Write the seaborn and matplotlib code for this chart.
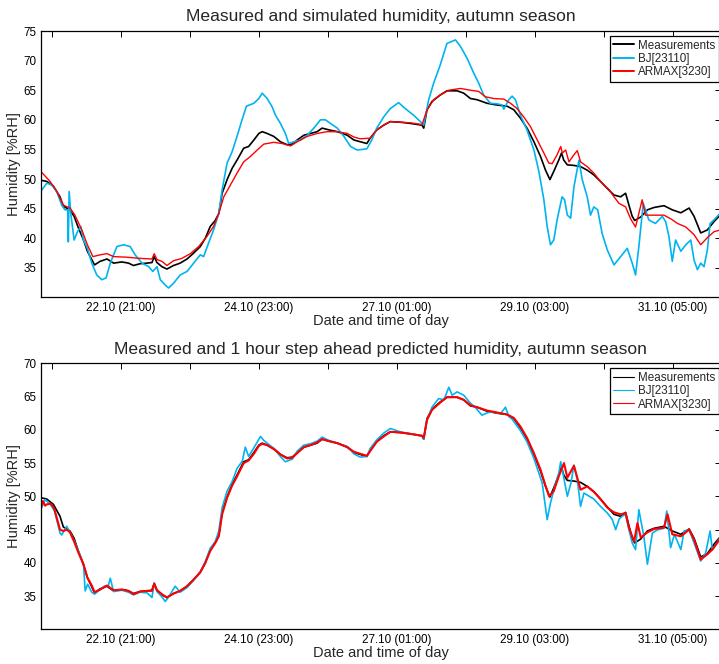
import matplotlib
matplotlib.use("Agg")
import matplotlib.pyplot as plt
import pandas as pd
import seaborn as sns

# Time axis: hours elapsed since 21.10 16:00
t_meas = [0, 2.2, 4.6, 7.0, 8.2, 9.4, 10.6, 12.1, 13.7, 15.5, 16.9, 18.5, 19.5, 21.5, 24.0,
          26.4, 29.4, 31.8, 33.6, 36.0, 38.5, 40.3, 41.1, 42.1, 43.9, 45.7, 48.1, 50.5, 53.0,
          55.4, 57.8, 59.6, 61.4, 63.2, 64.5, 65.7, 67.5, 69.3, 71.1, 73.5, 75.3, 77.2, 79.0,
          80.2, 82.0, 84.4, 86.8, 89.2, 91.1, 92.9, 95.3, 97.7, 100.1, 101.9, 104.4, 107.4,
          111.0, 113.4, 115.7, 118.1, 119.3, 121.7, 124.2, 126.6, 130.2, 133.8, 138.1, 138.7,
          139.9, 141.7, 144.7, 147.1, 150.8, 153.2, 155.6, 158.0, 161.6, 165.3, 168.9, 171.3,
          173.7, 176.1, 178.6, 181.0, 182.8, 184.4, 185.8, 187.6, 188.6, 189.4, 190.7, 193.1,
          195.5, 197.9, 200.3, 202.7, 205.2, 207.6, 210.0, 211.8, 213.0, 214.2, 215.1, 217.3,
          219.7, 222.1, 225.7, 228.7, 231.8, 234.8, 236.6, 239.0, 241.4, 243.8, 246.0]
rh_meas = [49.8, 49.6, 48.8, 47.0, 45.4, 45.1, 44.8, 43.7, 41.7, 39.7, 37.8, 36.4, 35.5, 36.1,
           36.5, 35.8, 36.0, 35.8, 35.4, 35.7, 35.8, 35.9, 36.9, 35.9, 35.2, 34.8, 35.4, 35.8,
           36.5, 37.5, 38.6, 40.0, 42.0, 43.0, 44.2, 47.6, 49.9, 51.8, 53.2, 55.2, 55.5, 56.6,
           57.7, 58.0, 57.7, 57.2, 56.3, 55.8, 55.9, 56.6, 57.4, 57.7, 58.0, 58.6, 58.3, 58.0,
           57.4, 56.6, 56.3, 56.0, 56.9, 58.3, 59.1, 59.7, 59.6, 59.4, 59.1, 58.6, 61.7, 63.1,
           64.2, 64.9, 64.9, 64.5, 63.6, 63.4, 62.8, 62.5, 62.3, 61.7, 60.3, 58.6, 56.3, 53.8,
           51.5, 49.9, 51.3, 53.2, 54.4, 53.2, 52.4, 52.3, 52.1, 51.5, 50.7, 49.6, 48.4, 47.3,
           47.0, 47.6, 45.6, 43.7, 43.0, 43.6, 44.8, 45.2, 45.5, 44.8, 44.3, 45.1, 43.7, 40.9,
           41.4, 42.8, 43.9]

# Simulated output, Box-Jenkins model
t_bj_sim = [0, 2.2, 4.0, 5.8, 7.6, 8.8, 9.8, 10.0, 10.3, 10.9, 12.1, 13.3, 14.5, 15.5, 16.9,
            18.5, 20.3, 22.1, 23.7, 25.2, 27.6, 30.0, 32.4, 34.2, 36.7, 39.1, 40.6, 42.1, 43.3,
            45.1, 46.3, 48.1, 50.5, 53.0, 55.4, 57.8, 59.0, 60.8, 62.6, 64.5, 65.7, 67.5, 69.3,
            71.1, 72.9, 74.5, 77.2, 79.0, 80.2, 82.0, 83.8, 85.0, 86.8, 88.6, 89.8, 91.7, 94.1,
            96.5, 98.9, 101.3, 103.1, 104.9, 107.4, 109.8, 112.2, 114.6, 118.1, 119.9, 121.7,
            124.2, 126.6, 129.6, 132.0, 135.0, 137.5, 138.7, 140.5, 142.3, 144.7, 147.1, 150.2,
            152.0, 154.4, 156.8, 158.6, 160.4, 162.8, 165.3, 167.1, 167.7, 169.5, 170.7, 171.9,
            173.7, 176.1, 178.6, 180.4, 182.2, 183.4, 184.6, 185.8, 187.0, 188.8, 189.7, 190.7,
            191.9, 193.1, 194.9, 196.1, 197.9, 199.1, 200.3, 201.7, 203.3, 205.2, 207.6, 210.0,
            212.4, 214.2, 215.4, 216.6, 218.2, 220.2, 222.6, 225.1, 226.3, 227.5, 228.7, 229.9,
            231.8, 233.6, 235.4, 236.6, 237.8, 239.0, 240.2, 241.4, 242.4, 243.8, 246.0]
rh_bj_sim = [47.9, 49.3, 49.0, 47.9, 45.6, 44.8, 44.8, 39.4, 47.9, 44.2, 39.7, 41.1, 42.0, 39.7,
             38.3, 35.8, 33.8, 33.0, 33.3, 35.8, 38.6, 38.9, 38.6, 37.2, 35.8, 35.2, 34.4, 35.2,
             33.0, 32.1, 31.6, 32.4, 33.8, 34.4, 35.8, 37.2, 36.9, 39.2, 41.4, 44.2, 48.2, 52.7,
             54.6, 57.2, 60.0, 62.3, 62.8, 63.6, 64.5, 63.6, 62.2, 60.8, 59.4, 57.7, 56.0, 56.3,
             56.6, 57.4, 58.6, 60.0, 60.0, 59.4, 58.6, 57.2, 55.5, 54.9, 55.1, 56.6, 58.6, 60.5,
             61.9, 62.9, 61.9, 60.8, 59.7, 59.1, 63.4, 66.2, 69.3, 72.9, 73.5, 72.4, 70.4, 67.9,
             66.2, 64.2, 62.8, 62.7, 62.5, 61.8, 63.4, 64.0, 63.4, 60.8, 58.3, 54.9, 51.3, 46.5,
             42.0, 38.9, 39.7, 43.1, 47.0, 46.5, 43.9, 43.4, 48.7, 53.2, 49.9, 47.0, 43.9, 45.3,
             44.8, 40.8, 38.0, 35.5, 36.9, 38.3, 35.8, 33.8, 38.6, 45.9, 43.1, 42.5, 43.7, 42.8,
             40.3, 36.1, 39.7, 37.8, 38.9, 39.7, 36.3, 34.7, 35.8, 35.2, 38.0, 42.5, 43.1, 44.2]

# Simulated output, ARMAX model
t_armax_sim = [0, 3.4, 5.8, 8.2, 10.6, 12.4, 14.9, 16.9, 18.9, 21.5, 24.0, 26.4, 31.2, 36.0,
               40.3, 41.1, 42.1, 43.9, 45.7, 48.1, 51.1, 54.2, 57.2, 60.2, 62.6, 64.5, 66.3,
               68.7, 71.1, 73.5, 75.9, 78.4, 80.8, 84.4, 87.4, 90.5, 92.9, 96.5, 100.1, 103.7,
               107.4, 111.0, 113.4, 115.7, 119.3, 121.7, 124.2, 126.6, 130.2, 133.8, 138.1,
               139.9, 142.3, 144.7, 147.8, 152.0, 155.6, 158.6, 161.0, 164.0, 167.7, 170.1,
               172.5, 174.9, 177.3, 179.8, 182.2, 184.0, 185.2, 187.0, 188.3, 188.9, 190.1,
               191.3, 193.1, 194.3, 195.5, 197.9, 200.3, 202.7, 205.8, 207.6, 209.4, 211.8,
               213.6, 215.4, 216.6, 217.8, 219.0, 222.1, 225.7, 228.1, 230.6, 233.6, 236.6,
               239.0, 241.4, 243.8, 246.0]
rh_armax_sim = [51.3, 49.6, 47.9, 45.6, 45.1, 43.9, 41.4, 38.9, 36.9, 37.2, 37.4, 36.9, 36.8,
                36.6, 36.5, 37.4, 36.4, 36.1, 35.4, 36.2, 36.6, 37.4, 38.6, 40.3, 42.0, 44.2,
                47.0, 49.0, 51.0, 52.9, 53.8, 54.9, 55.9, 56.2, 56.0, 55.6, 56.3, 57.2, 57.7,
                58.0, 58.0, 57.7, 57.1, 56.8, 56.9, 58.3, 59.1, 59.7, 59.6, 59.5, 59.2, 61.7,
                63.4, 64.2, 65.0, 65.3, 65.0, 64.8, 63.9, 63.6, 63.5, 62.8, 61.9, 60.5, 58.9,
                56.6, 54.4, 52.7, 52.6, 54.1, 55.5, 54.4, 54.9, 52.9, 54.1, 54.8, 52.9, 52.1,
                51.0, 49.6, 48.2, 47.0, 45.9, 45.3, 43.3, 41.9, 44.2, 46.5, 43.9, 43.9, 43.9,
                43.3, 42.5, 41.9, 40.6, 38.9, 40.1, 41.1, 41.4]

# One hour step ahead prediction, Box-Jenkins model
t_bj_pred = [0, 1.6, 3.5, 5.0, 7.0, 7.6, 9.4, 11.0, 12.5, 14.0, 15.5, 16.1, 17.0, 18.5, 19.5,
             21.5, 23.0, 24.5, 25.2, 26.4, 29.4, 31.8, 33.6, 36.0, 38.5, 40.3, 41.1, 42.1,
             43.9, 45.1, 46.5, 48.7, 50.5, 53.0, 55.4, 57.8, 59.6, 61.4, 63.2, 64.5, 65.7,
             67.5, 69.3, 71.1, 73.0, 74.1, 75.3, 77.2, 79.6, 80.8, 82.0, 84.4, 86.8, 88.6,
             91.1, 92.9, 95.3, 97.7, 100.1, 101.9, 104.4, 107.4, 111.0, 113.4, 115.7, 118.1,
             119.3, 121.7, 124.2, 126.6, 130.2, 133.8, 138.1, 138.7, 139.9, 141.7, 144.1,
             146.0, 147.8, 149.0, 150.8, 153.2, 155.6, 157.5, 159.8, 162.0, 164.0, 166.5,
             168.3, 169.5, 170.7, 173.7, 176.1, 178.6, 181.6, 183.4, 184.6, 186.0, 187.6,
             188.3, 189.1, 190.7, 192.0, 193.1, 194.3, 195.5, 196.7, 197.9, 200.3, 202.7,
             205.2, 207.0, 208.2, 209.5, 210.5, 211.8, 213.0, 214.2, 215.4, 216.6, 218.4,
             219.7, 221.5, 223.5, 225.7, 226.7, 228.1, 229.5, 231.8, 233.0, 234.8, 236.6,
             239.0, 240.8, 242.4, 243.2, 244.5, 246.0]
rh_bj_pred = [48.0, 49.5, 48.8, 47.8, 44.5, 44.2, 45.5, 44.3, 43.0, 41.5, 39.8, 35.8, 36.8,
              35.6, 35.3, 36.0, 36.5, 36.6, 37.7, 35.7, 35.9, 35.6, 35.2, 35.6, 35.5, 34.8,
              37.0, 35.7, 34.9, 34.2, 35.0, 36.5, 35.6, 36.3, 37.4, 38.7, 40.2, 42.2, 43.2,
              44.8, 48.3, 50.8, 52.2, 54.2, 55.3, 57.4, 56.0, 57.3, 59.0, 58.4, 58.0, 57.2,
              56.0, 55.2, 55.6, 56.8, 57.7, 57.9, 58.3, 58.9, 58.4, 58.0, 57.5, 56.4, 55.9,
              56.0, 57.2, 58.5, 59.5, 60.2, 59.7, 59.4, 59.1, 58.6, 61.5, 63.4, 64.7, 64.5,
              66.4, 65.2, 65.7, 65.2, 64.0, 63.3, 62.2, 62.6, 62.7, 62.4, 63.4, 62.0, 61.6,
              59.9, 58.2, 55.7, 52.0, 46.5, 49.0, 51.3, 53.5, 55.2, 53.5, 50.0, 52.0, 54.7,
              52.5, 48.5, 50.5, 50.2, 49.6, 48.5, 47.5, 46.5, 45.0, 46.6, 47.0, 47.3, 45.0,
              43.0, 42.0, 48.0, 44.0, 39.8, 44.5, 45.0, 45.2, 47.8, 42.3, 44.3, 42.0, 44.8,
              45.0, 43.0, 40.3, 41.5, 44.8, 42.0, 42.8, 43.8]

# One hour step ahead prediction, ARMAX model
t_armax_pred = [0, 0.8, 1.6, 2.2, 3.5, 4.6, 5.0, 7.0, 8.2, 9.4, 10.6, 12.1, 13.7, 15.5, 16.9,
                18.5, 19.5, 21.5, 24.0, 26.4, 29.4, 31.8, 33.6, 36.0, 38.5, 40.3, 41.1, 42.1,
                43.9, 45.7, 48.1, 50.5, 53.0, 55.4, 57.8, 59.6, 61.4, 63.2, 64.5, 65.7, 67.5,
                69.3, 71.1, 73.5, 75.3, 77.2, 79.0, 80.2, 82.0, 84.4, 86.8, 89.2, 91.1, 92.9,
                95.3, 97.7, 100.1, 101.9, 104.4, 107.4, 111.0, 113.4, 115.7, 118.1, 119.3,
                121.7, 124.2, 126.6, 130.2, 133.8, 138.1, 138.7, 139.9, 141.7, 144.7, 147.1,
                150.8, 153.2, 155.6, 158.0, 161.6, 165.3, 168.9, 171.3, 173.7, 176.1, 178.6,
                181.0, 182.8, 184.1, 185.8, 187.6, 189.5, 190.7, 193.1, 195.5, 197.9, 200.3,
                202.7, 205.2, 207.6, 210.0, 211.8, 213.0, 214.9, 216.1, 217.3, 219.7, 222.1,
                225.7, 227.0, 228.7, 231.8, 234.8, 236.6, 239.0, 241.4, 243.2, 246.0]
rh_armax_pred = [48.2, 49.3, 48.6, 48.8, 48.9, 48.4, 48.0, 45.0, 44.8, 45.0, 44.6, 43.2, 41.5,
                 39.8, 37.8, 36.6, 35.6, 36.0, 36.6, 35.9, 36.0, 35.8, 35.3, 35.7, 35.8, 35.8,
                 36.9, 35.9, 35.3, 34.8, 35.4, 35.8, 36.5, 37.5, 38.6, 40.0, 41.8, 43.0, 44.0,
                 47.3, 49.8, 51.6, 53.0, 55.0, 55.4, 56.4, 57.6, 57.9, 57.7, 57.1, 56.3, 55.7,
                 55.8, 56.5, 57.4, 57.7, 58.1, 58.6, 58.3, 58.0, 57.4, 56.7, 56.4, 56.1, 56.8,
                 58.2, 59.0, 59.7, 59.6, 59.4, 59.1, 58.8, 61.5, 63.0, 64.1, 64.9, 64.9, 64.5,
                 63.7, 63.4, 62.9, 62.6, 62.3, 61.8, 60.5, 58.8, 56.5, 54.0, 51.6, 50.0, 50.8,
                 53.0, 55.0, 52.8, 54.6, 51.0, 51.5, 50.7, 49.6, 48.3, 47.6, 47.3, 47.5, 45.3,
                 43.2, 46.0, 43.8, 44.6, 45.1, 45.3, 47.3, 44.3, 44.0, 45.0, 43.5, 40.5, 41.3,
                 42.0, 43.6]

series_names = ["Measurements", "BJ[23110]", "ARMAX[3230]"]
series_colors = ["#000000", "#00b4f0", "#ff0000"]

x_ticks = [4, 29, 54, 79, 104, 129, 154, 179, 204, 229]
x_tick_labels = ["", "22.10 (21:00)", "", "24.10 (23:00)", "", "27.10 (01:00)", "",
                 "29.10 (03:00)", "", "31.10 (05:00)"]
y_ticks_top = [35, 40, 45, 50, 55, 60, 65, 70, 75]
y_ticks_bottom = [35, 40, 45, 50, 55, 60, 65, 70]

titles = ["Measured and simulated humidity, autumn season",
          "Measured and 1 hour step ahead predicted humidity, autumn season"]
x_label = "Date and time of day"
y_label = "Humidity [%RH]"

sns.set_theme(style="white")
plt.rcParams["font.family"] = ["Liberation Sans", "DejaVu Sans"]

fig = plt.figure(figsize=(7.19, 6.64), dpi=100)
ax_top = fig.add_axes([0.0566, 0.552, 0.946, 0.4013])
ax_bot = fig.add_axes([0.0566, 0.052, 0.946, 0.4009])

panels = [
    (ax_top, [(t_meas, rh_meas), (t_bj_sim, rh_bj_sim), (t_armax_sim, rh_armax_sim)],
     [1.2, 1.2, 1.0], (30, 75), y_ticks_top, titles[0], [1.4, 1.4, 1.4]),
    (ax_bot, [(t_meas, rh_meas), (t_bj_pred, rh_bj_pred), (t_armax_pred, rh_armax_pred)],
     [1.2, 1.2, 1.5], (30, 70), y_ticks_bottom, titles[1], [0.8, 0.8, 0.8]),
]

for ax, curves, widths, ylim, yticks, title, leg_widths in panels:
    for (tx, ty), name, col, lw in zip(curves, series_names, series_colors, widths):
        df = pd.DataFrame({"hours": tx, "rh": ty})
        sns.lineplot(data=df, x="hours", y="rh", ax=ax, color=col, linewidth=lw,
                     label=name, estimator=None, sort=True)
    ax.set_xlim(0, 246.3)
    ax.set_ylim(*ylim)
    ax.set_xticks(x_ticks)
    ax.set_xticklabels(x_tick_labels)
    ax.set_yticks(yticks)
    ax.tick_params(direction="in", length=4, width=0.7, top=True, right=True,
                   labelsize=8.4, pad=3, colors="black")
    for sp in ax.spines.values():
        sp.set_color("black")
        sp.set_linewidth(0.9)
    ax.set_title(title, fontsize=12.6, pad=7)
    ax.set_xlabel(x_label, fontsize=10.5, labelpad=0)
    ax.set_ylabel(y_label, fontsize=10.5, labelpad=2)
    leg = ax.legend(loc="upper right", bbox_to_anchor=(1.0, 0.99), fontsize=8.4,
                    frameon=True, fancybox=False, framealpha=1, edgecolor="black",
                    handlelength=1.8, handletextpad=0.3, labelspacing=0.12,
                    borderpad=0.3, borderaxespad=0.2)
    leg.get_frame().set_linewidth(0.9)
    for line, lw in zip(leg.get_lines(), leg_widths):
        line.set_linewidth(lw)

fig.savefig("out.png", dpi=100)
